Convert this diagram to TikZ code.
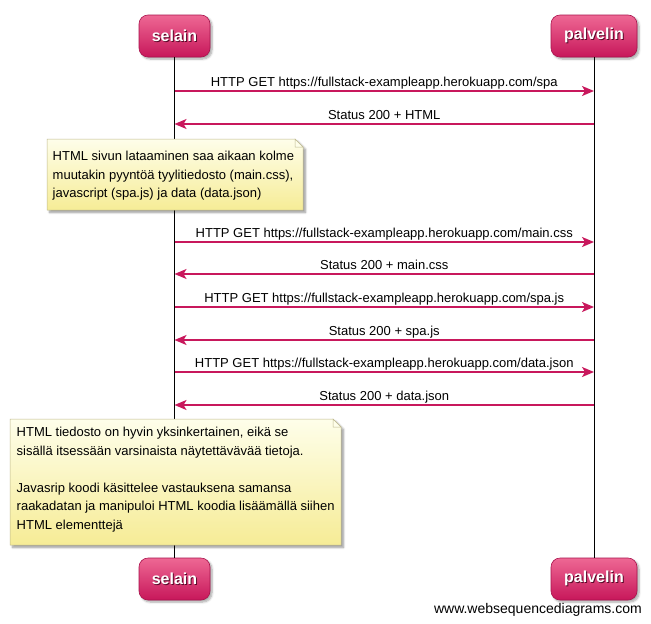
\documentclass[tikz,border=0pt]{standalone}
\usepackage{fontspec}
\setmainfont{Liberation Sans}
\usetikzlibrary{arrows.meta,shadows.blur}

\definecolor{msgpink}{HTML}{C8185C}
\definecolor{boxtop}{HTML}{EE6894}
\definecolor{boxbot}{HTML}{C7175A}
\definecolor{boxedge}{HTML}{A9134D}
\definecolor{notetop}{HTML}{FEFEEA}
\definecolor{notebot}{HTML}{F6EC96}
\definecolor{noteedge}{HTML}{BDB88E}

% white label with a soft dark drop shadow
\newcommand{\actortext}[1]{\makebox[0pt][l]{\hspace*{1pt}\raisebox{-1pt}{\color{boxbot!45!black}#1}}#1}

\begin{document}
\begin{tikzpicture}[x=1pt,y=-1pt,
  actor/.style={rectangle, rounded corners=9pt, top color=boxtop, bottom color=boxbot,
    draw=boxedge, line width=0.6pt, minimum height=42pt, inner sep=0pt,
    font=\fontsize{16}{16}\selectfont\bfseries, text=white,
    blur shadow={shadow xshift=2pt, shadow yshift=-2pt, shadow blur steps=6, shadow opacity=35}},
  lifeline/.style={draw=black, line width=0.8pt},
  msg/.style={draw=msgpink, line width=1.5pt,
    -{Stealth[length=12pt, width=10pt, inset=3pt]}},
  msglabel/.style={midway, anchor=base, yshift=4.5pt, inner sep=0pt,
    font=\fontsize{13}{13}\selectfont, text=black},
  notebox/.style={top color=notetop, bottom color=notebot, draw=noteedge, line width=0.5pt,
    blur shadow={shadow xshift=2.5pt, shadow yshift=-2.5pt, shadow blur steps=6, shadow opacity=40}},
  % anchored at the baseline of the last line of the note
  notetext/.style={anchor=base west, inner sep=0pt, align=left,
    font=\fontsize{13}{18.5}\selectfont, text=black},
]
\useasboundingbox (0,0) rectangle (651,624);

% participants
\node[actor, minimum width=71pt] (sTop) at (174.5,36) {\actortext{selain}};
\node[actor, minimum width=86pt] (pTop) at (594,36) {\actortext{palvelin}};
\node[actor, minimum width=71pt] (sBot) at (174.5,579) {\actortext{selain}};
\node[actor, minimum width=86pt] (pBot) at (594,579) {\actortext{palvelin}};

% lifelines
\draw[lifeline] (sTop.south) -- (sBot.north);
\draw[lifeline] (pTop.south) -- (pBot.north);

% message end points on the lifelines
\foreach \i/\y in {1/91, 2/124, 3/242, 4/274, 5/307, 6/340, 7/372, 8/405} {
  \coordinate (s\i) at (sTop.south |- 0,\y);
  \coordinate (p\i) at (pTop.south |- 0,\y);
}

% messages
\draw[msg] (s1) -- (p1) node[msglabel] {HTTP GET https://fullstack-exampleapp.herokuapp.com/spa};
\draw[msg] (p2) -- (s2) node[msglabel] {Status 200 + HTML};
\draw[msg] (s3) -- (p3) node[msglabel] {HTTP GET https://fullstack-exampleapp.herokuapp.com/main.css};
\draw[msg] (p4) -- (s4) node[msglabel] {Status 200 + main.css};
\draw[msg] (s5) -- (p5) node[msglabel] {HTTP GET https://fullstack-exampleapp.herokuapp.com/spa.js};
\draw[msg] (p6) -- (s6) node[msglabel] {Status 200 + spa.js};
\draw[msg] (s7) -- (p7) node[msglabel] {HTTP GET https://fullstack-exampleapp.herokuapp.com/data.json};
\draw[msg] (p8) -- (s8) node[msglabel] {Status 200 + data.json};

% first note
\path[notebox] (47,139) -- (295,139) -- (303,147) -- (303,210) -- (47,210) -- cycle;
\draw[draw=noteedge, line width=0.5pt, fill=notetop] (295,139) -- (295,147) -- (303,147) -- cycle;
\node[notetext] (note1) at (52.5,197.7) {HTML sivun lataaminen saa aikaan kolme\\
muutakin pyyntöä tyylitiedosto (main.css),\\
javascript (spa.js) ja data (data.json)};

% second note
\path[notebox] (10,419) -- (333,419) -- (341,427) -- (341,545) -- (10,545) -- cycle;
\draw[draw=noteedge, line width=0.5pt, fill=notetop] (333,419) -- (333,427) -- (341,427) -- cycle;
\node[notetext] (note2) at (16.5,529.2) {HTML tiedosto on hyvin yksinkertainen, eikä se\\
sisällä itsessään varsinaista näytettävävää tietoja.\\[18.5pt]
Javasrip koodi käsittelee vastauksena samansa\\
raakadatan ja manipuloi HTML koodia lisäämällä siihen\\
HTML elementtejä};

% footer
\node[anchor=base east, inner sep=0pt, font=\fontsize{14}{14}\selectfont] (footer) at (642,613.5) {www.websequencediagrams.com};
\end{tikzpicture}
\end{document}
